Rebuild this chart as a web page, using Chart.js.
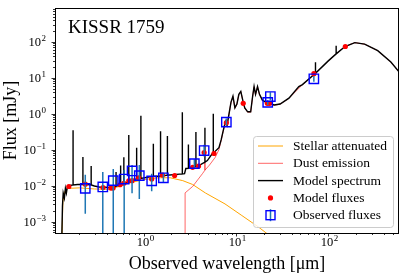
<!DOCTYPE html>
<html>
<head>
<meta charset="utf-8">
<script src="https://cdn.jsdelivr.net/npm/chart.js@4.4.1/dist/chart.umd.min.js"></script>
<style>
    html, body { margin: 0; padding: 0; background: #fff; }
    #wrap { width: 407px; height: 275px; }
</style>
</head>
<body>
<div id="wrap"><canvas id="sed"></canvas></div>
<script>
// ── Datos del SED (micras / mJy) ─────────────────────────────────
const galaxyName = 'KISSR 1759';

// Modelo completo (las líneas de emisión son tripletes base/pico/base)
const specWave = [
    0.129, 0.1325, 0.135, 0.139, 0.1426, 0.146, 0.150, 0.159,
    0.1726, 0.1726, 0.1726, 0.1937, 0.2206, 0.2206, 0.2206, 0.2475,
    0.271, 0.271, 0.271, 0.294, 0.332, 0.425, 0.491,
    0.504, 0.504, 0.504, 0.565, 0.565, 0.565, 0.612, 0.612, 0.612,
    0.692, 0.692, 0.692, 0.783, 0.842, 0.842, 0.842, 0.936, 0.936, 0.936,
    1.178, 1.277, 1.277, 1.277, 1.528, 1.528, 1.528, 1.633,
    1.813, 1.813, 1.813, 2.455, 2.63, 2.63, 2.63, 2.78, 2.87,
    3.06, 3.06, 3.06, 3.40, 3.69, 3.69, 3.69, 4.01, 4.62, 4.62, 4.62,
    4.91, 5.55, 5.69, 5.69, 5.69, 6.55, 6.92, 7.27, 7.69, 8.02, 8.43,
    8.85, 9.29, 9.75, 10.25, 10.76, 11.30, 11.86, 12.47, 13.42, 14.45,
    15.17, 15.73, 16.32, 17.14, 18.0, 19.36, 21.9, 26.0, 30.1, 37.5,
    48.0, 52.5, 72.7, 72.7, 72.7, 100, 121.7, 121.7, 121.7, 151.7,
    193.8, 247.6, 343, 476, 583, 692
];
const specFlux = [
    0.0001, 0.00275, 0.0062, 0.0045, 0.0084, 0.0062, 0.0095, 0.0101,
    0.0105, 0.348, 0.0105, 0.0108, 0.0108, 0.063, 0.0108, 0.0108,
    0.0105, 0.035, 0.0105, 0.0098, 0.0092, 0.0089, 0.0095,
    0.0097, 0.024, 0.0097, 0.0108, 0.0366, 0.0108, 0.0115, 0.0612, 0.0115,
    0.0125, 0.255, 0.0125, 0.015, 0.0155, 0.114, 0.0155, 0.016, 0.883, 0.016,
    0.0177, 0.018, 0.146, 0.018, 0.0185, 0.327, 0.0185, 0.0188,
    0.0195, 0.24, 0.0195, 0.0209, 0.0213, 1.1, 0.0213, 0.0217, 0.030,
    0.0305, 0.14, 0.0305, 0.0315, 0.034, 0.308, 0.034, 0.0366, 0.045, 0.407, 0.045,
    0.0499, 0.0785, 0.08, 1.0, 0.08, 0.114, 0.187, 0.327, 0.608, 0.475, 1.0,
    2.10, 3.06, 1.45, 1.86, 3.46, 4.17, 2.38, 1.45, 1.13, 1.13,
    3.06, 5.69, 3.46, 5.69, 3.46, 2.38, 1.98, 1.75, 1.86, 2.70,
    5.69, 6.44, 13.3, 26.8, 13.3, 29.4, 46.0, 77.1, 46.0, 73.8,
    94.6, 85.7, 56.5, 27.3, 14.7, 7.3
];

// Componente estelar atenuada
const starWave = [0.129, 0.134, 0.141, 0.152, 0.203, 0.294, 0.425, 0.542, 0.692, 1.0,
    1.445, 1.94, 2.66, 3.40, 4.67, 7.62, 11.6, 17.5, 21.3, 27.3];
const starFlux = [0.0001, 0.00375, 0.007, 0.0084, 0.0087, 0.0081, 0.0079, 0.0095, 0.0118, 0.0147,
    0.0166, 0.0166, 0.0138, 0.0108, 0.00628, 0.00311, 0.00148, 0.000714, 0.000484, 0.0003];

// Emisión del polvo
const dustWave = [2.818, 2.818, 3.40, 4.35, 4.62, 4.62, 4.62, 5.17, 5.97, 6.55,
    6.92, 7.27, 7.69, 8.02, 8.43, 8.85, 9.29, 9.75, 10.25, 10.76, 11.30, 11.86,
    12.47, 13.42, 14.45, 15.17, 15.73, 16.32, 17.14, 18.0, 19.36, 21.9, 26.0,
    30.1, 37.5, 52.5, 72.7, 100, 121.7, 151.7, 193.8, 247.6, 343, 476, 583, 692];
const dustFlux = [0.00001, 0.0063, 0.0095, 0.0217, 0.027, 0.0449, 0.027, 0.0373, 0.0612, 0.1,
    0.18, 0.32, 0.6, 0.47, 0.98, 2.05, 3.0, 1.42, 1.82, 3.4, 4.1, 2.33,
    1.42, 1.1, 1.1, 3.0, 5.6, 3.4, 5.6, 3.4, 2.33, 1.95, 1.72,
    1.84, 2.68, 6.4, 13.3, 29.4, 46.0, 73.8, 94.6, 85.7, 56.5, 27.3, 14.7, 7.3];

// Flujos del modelo en cada filtro
const modelWave = [0.1554, 0.234, 0.364, 0.443, 0.468, 0.556, 0.612, 0.692, 0.751, 0.885,
    1.225, 1.60, 2.17, 3.40, 3.94, 4.53, 5.79, 7.88, 12.0, 21.9, 23.2, 69.8, 153];
const modelFlux = [0.0095, 0.011, 0.0089, 0.0086, 0.0086, 0.0106, 0.0117, 0.0136, 0.0138, 0.0166,
    0.0153, 0.0197, 0.0192, 0.0323, 0.035, 0.0835, 0.0785, 0.561, 1.94, 1.94, 1.94, 13.0, 73.8];

// Flujos observados con barras de error (extremos inferior y superior)
const obsWave = [0.234, 0.362, 0.470, 0.617, 0.751, 0.90, 1.225, 1.64, 3.55, 4.53,
    7.88, 22.1, 23.6, 69.8];
const obsFlux = [0.0084, 0.0092, 0.0138, 0.0153, 0.0257, 0.019, 0.0136, 0.0166, 0.041, 0.0946,
    0.583, 2.07, 3.0, 9.34];
const obsLow = [0.00167, 0.0001, 0.0001, 0.0001, 0.0062, 0.00425, 0.00698, 0.0122, 0.031, 0.065,
    0.475, 1.75, 2.38, 7.75];
const obsHigh = [0.020, 0.0241, 0.0291, 0.0273, 0.0373, 0.0373, 0.0213, 0.0227, 0.054, 0.137,
    0.733, 2.38, 3.92, 11.2];

// Límites de los ejes
const xRange = [0.110, 583];
const yRange = [4.84e-4, 867];

// ── Construcción de los datasets ─────────────────────────────────
const _xy = (xs, ys) => xs.map((x, i) => ({ x: x, y: ys[i] }));

const errSegments = [];
obsWave.forEach((w, i) => {
    errSegments.push({ x: w, y: obsLow[i] }, { x: w, y: obsHigh[i] }, { x: w, y: null });
});

const SERIF = "'Liberation Serif', 'DejaVu Serif', serif";

function _drawPow10(ctx, exp, x, y, align) {
    const base = '10', sup = exp < 0 ? '\u2212' + Math.abs(exp) : String(exp);
    ctx.font = '12.5px ' + SERIF;
    const wb = ctx.measureText(base).width;
    ctx.font = '9px ' + SERIF;
    const ws = ctx.measureText(sup).width;
    const total = wb + ws + 0.5;
    let x0 = align === 'right' ? x - total : x - total / 2;
    ctx.textAlign = 'left';
    ctx.textBaseline = 'alphabetic';
    ctx.font = '12.5px ' + SERIF;
    ctx.fillText(base, x0, y);
    ctx.font = '9px ' + SERIF;
    ctx.fillText(sup, x0 + wb + 0.5, y - 5);
}

// Marco, marcas de los ejes, etiquetas y título (estilo matplotlib)
const sedDecor = {
    id: 'sedDecor',
    afterDatasetsDraw(chart) {
        const ctx = chart.ctx, a = chart.chartArea;
        const ds = chart.data.datasets;
        const w = 140, h = 91;
        const lx = a.right - 6 - w, ly = a.bottom - 6 - h;
        ctx.save();
        ctx.beginPath();
        ctx.roundRect(lx + 0.5, ly + 0.5, w, h, 3);
        ctx.fillStyle = 'rgba(255,255,255,0.8)';
        ctx.fill();
        ctx.strokeStyle = '#cccccc';
        ctx.lineWidth = 1;
        ctx.stroke();

        const entries = [ds[0], ds[1], ds[2], ds[3], ds[5]];
        const rowH = 17.3;
        entries.forEach((d, i) => {
            const cy = ly + 10 + i * rowH;
            const sx0 = lx + 5, sx1 = lx + 30, sxc = (sx0 + sx1) / 2;
            if (i < 3) {
                ctx.beginPath();
                ctx.moveTo(sx0, cy);
                ctx.lineTo(sx1, cy);
                ctx.strokeStyle = d.borderColor;
                ctx.lineWidth = d.borderWidth;
                ctx.stroke();
            } else if (i === 3) {
                ctx.beginPath();
                ctx.arc(sxc, cy, 2.6, 0, Math.PI * 2);
                ctx.fillStyle = d.backgroundColor;
                ctx.fill();
            } else {
                ctx.beginPath();
                ctx.moveTo(sxc, cy - 6);
                ctx.lineTo(sxc, cy + 6);
                ctx.strokeStyle = ds[4].borderColor;
                ctx.lineWidth = 1.5;
                ctx.stroke();
                ctx.strokeStyle = d.borderColor;
                ctx.lineWidth = d.pointBorderWidth;
                ctx.strokeRect(sxc - 4.5, cy - 4.5, 9, 9);
            }
            ctx.fillStyle = '#000';
            ctx.font = '13.5px ' + SERIF;
            ctx.textAlign = 'left';
            ctx.textBaseline = 'middle';
            ctx.fillText(d.label, lx + 40, cy + 0.5);
        });
        ctx.restore();
    },
    afterDraw(chart) {
        const ctx = chart.ctx, a = chart.chartArea;
        const xs = chart.scales.x, ys = chart.scales.y;
        ctx.save();
        ctx.strokeStyle = '#000';
        ctx.fillStyle = '#000';

        // marcas menores y mayores hacia fuera
        const ticksFor = (sc) => {
            const out = [];
            for (let e = Math.floor(Math.log10(sc.min)); e <= Math.ceil(Math.log10(sc.max)); e++) {
                for (let k = 1; k <= 9; k++) {
                    const v = k * Math.pow(10, e);
                    if (v >= sc.min && v <= sc.max) out.push({ v: v, e: e, major: k === 1 });
                }
            }
            return out;
        };
        ctx.lineWidth = 0.8;
        ticksFor(xs).forEach(t => {
            const px = Math.round(xs.getPixelForValue(t.v)) + 0.5;
            ctx.beginPath();
            ctx.moveTo(px, a.bottom);
            ctx.lineTo(px, a.bottom + (t.major ? 3.5 : 2));
            ctx.stroke();
            if (t.major) _drawPow10(ctx, t.e, px + 1, a.bottom + 12.5, 'center');
        });
        ticksFor(ys).forEach(t => {
            const py = Math.round(ys.getPixelForValue(t.v)) + 0.5;
            ctx.beginPath();
            ctx.moveTo(a.left, py);
            ctx.lineTo(a.left - (t.major ? 3.5 : 2), py);
            ctx.stroke();
            if (t.major) _drawPow10(ctx, t.e, a.left - 9, py + 3.5, 'right');
        });

        ctx.lineWidth = 1;
        ctx.strokeRect(a.left + 0.5, a.top + 0.5, a.right - a.left - 1, a.bottom - a.top);

        ctx.font = '19px ' + SERIF;
        ctx.textAlign = 'left';
        ctx.textBaseline = 'alphabetic';
        ctx.fillText(galaxyName, a.left + 13, a.top + 25);
        ctx.restore();
    }
};

new Chart(document.getElementById('sed').getContext('2d'), {
    type: 'line',
    data: {
        datasets: [
            {
                label: 'Stellar attenuated',
                data: _xy(starWave, starFlux),
                borderColor: '#ffa500',
                borderWidth: 1,
                pointRadius: 0,
                order: 6
            },
            {
                label: 'Dust emission',
                data: _xy(dustWave, dustFlux),
                borderColor: 'rgba(255, 0, 0, 0.6)',
                borderWidth: 1,
                pointRadius: 0,
                order: 5
            },
            {
                label: 'Model spectrum',
                data: _xy(specWave, specFlux),
                borderColor: '#000000',
                borderWidth: 1.4,
                pointRadius: 0,
                order: 4
            },
            {
                label: 'Model fluxes',
                data: _xy(modelWave, modelFlux),
                showLine: false,
                pointRadius: 2.6,
                pointBorderWidth: 0,
                backgroundColor: '#ff0000',
                borderColor: '#ff0000',
                order: 3
            },
            {
                label: 'errors',
                data: errSegments,
                borderColor: '#1f77b4',
                borderWidth: 1.5,
                pointRadius: 0,
                spanGaps: false,
                order: 2
            },
            {
                label: 'Observed fluxes',
                data: _xy(obsWave, obsFlux),
                showLine: false,
                pointStyle: 'rect',
                pointRadius: 6.6,
                pointBorderWidth: 1.4,
                borderColor: '#0000ff',
                backgroundColor: 'rgba(0,0,0,0)',
                order: 1
            }
        ]
    },
    options: {
        responsive: true,
        maintainAspectRatio: false,
        animation: false,
        events: [],
        layout: { padding: { top: 1, right: 2, left: 0, bottom: 0 } },
        scales: {
            x: {
                type: 'logarithmic',
                min: xRange[0],
                max: xRange[1],
                grid: { display: false },
                border: { display: false },
                ticks: { display: false },
                title: {
                    display: true,
                    text: 'Observed wavelength [\u03bcm]',
                    color: '#000',
                    font: { family: SERIF, size: 18 },
                    padding: 0
                },
                afterFit: s => { s.height = 42; }
            },
            y: {
                type: 'logarithmic',
                min: yRange[0],
                max: yRange[1],
                grid: { display: false },
                border: { display: false },
                ticks: { display: false },
                title: {
                    display: true,
                    text: 'Flux [mJy]',
                    color: '#000',
                    font: { family: SERIF, size: 18 },
                    padding: 0
                },
                afterFit: s => { s.width = 55; }
            }
        },
        plugins: {
            legend: { display: false },
            tooltip: { enabled: false }
        }
    },
    plugins: [sedDecor]
});
</script>
</body>
</html>
